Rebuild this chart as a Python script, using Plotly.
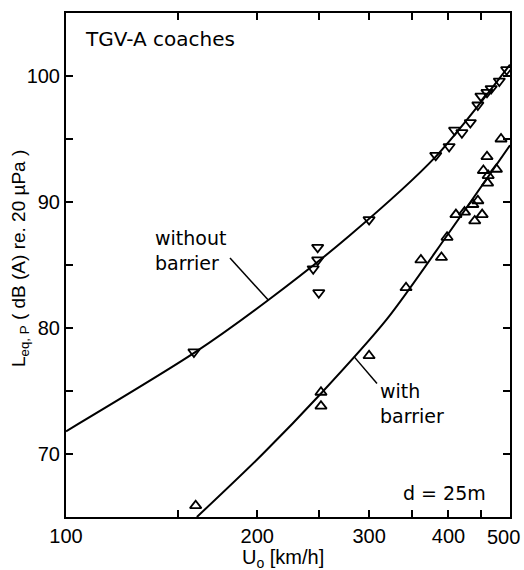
import math
import plotly.graph_objects as go

# ---------------- data ----------------
without_speed = [159, 245, 249, 249, 250, 300, 382, 401, 409, 420, 433, 445, 450, 460, 467, 481, 494]
without_level = [78.1, 84.7, 85.4, 86.4, 82.8, 88.6, 93.7, 94.4, 95.7, 95.5, 96.3, 97.7, 98.4, 98.7, 99.0, 99.6, 100.5]

with_speed = [160, 252, 252, 300, 343, 362, 390, 398, 411, 424, 437, 445, 440, 452, 461, 462, 454, 476, 460, 484]
with_level = [65.9, 74.9, 73.8, 77.8, 83.2, 85.4, 85.6, 87.2, 89.0, 89.2, 89.8, 90.1, 88.5, 89.0, 91.5, 92.1, 92.5, 92.6, 93.6, 95.0]

fit_without_speed = [100, 160, 208, 279, 382, 500]
fit_without_level = [71.8, 78.1, 82.2, 87.3, 93.6, 100.9]

fit_with_speed = [160.7, 204, 252, 320, 400, 500]
fit_with_level = [65.0, 70.0, 74.8, 80.7, 87.5, 94.5]

x_tickvals = [100, 150, 200, 250, 300, 350, 400, 450, 500]
x_ticktext = ["100", "", "200", "", "300", "", "400", "", ""]
x_edge_label = "500"
y_tickvals = [70, 75, 80, 85, 90, 95, 100]
y_ticktext = ["70", "", "80", "", "90", "", "100"]

# ---------------- layout geometry (pixels) ----------------
W, H = 524, 570
L, R, T, B = 66, 510, 11, 517


def px(xp):
    return (xp - L) / (R - L)


def py(yp):
    return (B - yp) / (B - T)


fig = go.Figure()

fig.add_trace(go.Scatter(x=fit_without_speed, y=fit_without_level, mode="lines",
                         line=dict(color="black", width=2, shape="spline", smoothing=0.8),
                         showlegend=False, hoverinfo="skip"))
fig.add_trace(go.Scatter(x=fit_with_speed, y=fit_with_level, mode="lines",
                         line=dict(color="black", width=2, shape="spline", smoothing=0.8),
                         showlegend=False, hoverinfo="skip"))
fig.add_trace(go.Scatter(x=without_speed, y=without_level, mode="markers",
                         marker=dict(symbol="triangle-down-open", size=10, color="black",
                                     line=dict(width=1.8, color="black")),
                         showlegend=False))
fig.add_trace(go.Scatter(x=with_speed, y=with_level, mode="markers",
                         marker=dict(symbol="triangle-up-open", size=10, color="black",
                                     line=dict(width=1.8, color="black")),
                         showlegend=False))

tickfont = dict(family="Liberation Sans, Arial, sans-serif", size=20, color="black")
textfont = dict(family="DejaVu Sans, sans-serif", size=19, color="black")

fig.update_xaxes(type="log", range=[2, math.log10(500)],
                 showline=True, linewidth=2, linecolor="black", mirror="allticks",
                 ticks="inside", ticklen=7, tickwidth=1.5, tickcolor="black",
                 tickmode="array", tickvals=x_tickvals, ticktext=x_ticktext,
                 tickfont=tickfont, showgrid=False, zeroline=False)
fig.update_yaxes(range=[65, 105],
                 showline=True, linewidth=2, linecolor="black", mirror="allticks",
                 ticks="inside", ticklen=7, tickwidth=1.5, tickcolor="black",
                 tickmode="array", tickvals=y_tickvals, ticktext=y_ticktext,
                 tickfont=tickfont, showgrid=False, zeroline=False)

annotations = [
    dict(text="TGV-A coaches", x=px(83), y=py(37), xanchor="left", yanchor="middle",
         font=dict(family="DejaVu Sans, sans-serif", size=20, color="black")),
    dict(text="without<br>barrier", x=px(153), y=py(249), xanchor="left", yanchor="middle",
         align="left", font=textfont),
    dict(text="with<br>barrier", x=px(378), y=py(403), xanchor="left", yanchor="middle",
         align="left", font=textfont),
    dict(text="d = 25m", x=px(488), y=py(493), xanchor="right", yanchor="middle", font=textfont),
    dict(text=x_edge_label, x=px(503), y=py(537), xanchor="center", yanchor="middle", font=tickfont),
    dict(text="U<sub>o</sub> [km/h]", x=px(283), y=py(559), xanchor="center", yanchor="middle",
         font=dict(family="Liberation Sans, Arial, sans-serif", size=20, color="black")),
    dict(text="L<sub>eq, P</sub> ( dB (A) re. 20 µPa )", x=px(20), y=py(258), xanchor="center",
         yanchor="middle", textangle=-90,
         font=dict(family="Liberation Sans, Arial, sans-serif", size=19, color="black")),
]
for a in annotations:
    a.update(xref="paper", yref="paper", showarrow=False)

shapes = [
    dict(type="line", xref="paper", yref="paper", x0=px(230), y0=py(257), x1=px(268), y1=py(299),
         line=dict(color="black", width=1.5)),
    dict(type="line", xref="paper", yref="paper", x0=px(354), y0=py(356), x1=px(377), y1=py(383),
         line=dict(color="black", width=1.5)),
]

fig.update_layout(width=W, height=H, margin=dict(l=L, r=W - R, t=T, b=H - B),
                  paper_bgcolor="white", plot_bgcolor="white",
                  annotations=annotations, shapes=shapes, showlegend=False)

fig.write_html("out.html")
